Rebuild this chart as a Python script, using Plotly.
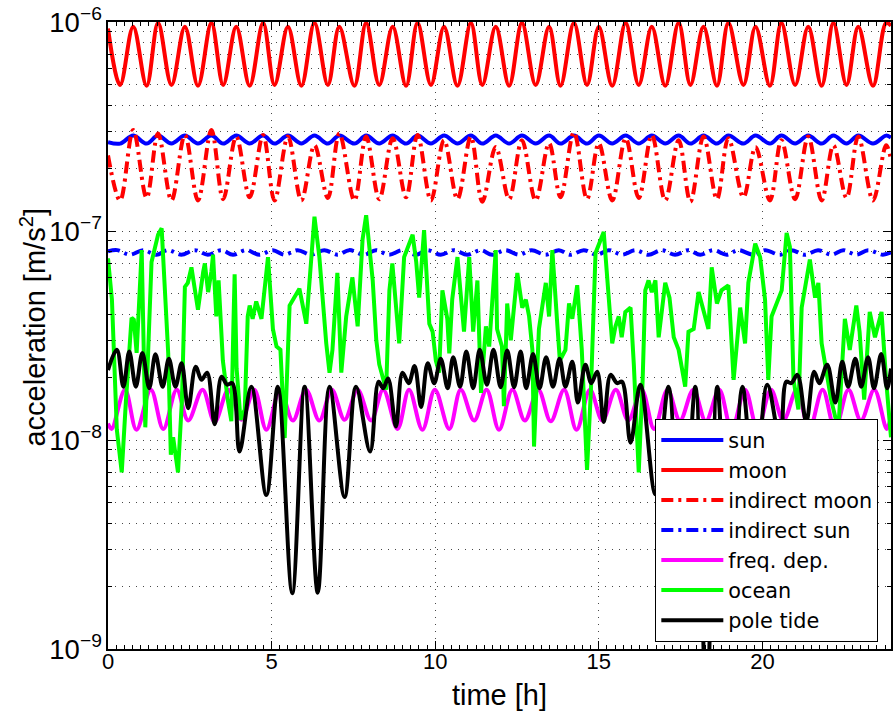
import plotly.graph_objects as go

# ---------------------------------------------------------------------------
# Tidal acceleration components over one sidereal day (time in hours, m/s^2)
# ---------------------------------------------------------------------------

# common time base of the direct / indirect lunar and solar terms (extrema)
t_lunar = [0.00, 0.37, 0.77, 1.18, 1.53, 1.94, 2.35, 2.75, 3.16, 3.52,
           3.92, 4.33, 4.74, 5.09, 5.50, 5.91, 6.31, 6.72, 7.07, 7.53,
           7.89, 8.29, 8.70, 9.11, 9.46, 9.87, 10.27, 10.68, 11.09, 11.44,
           11.85, 12.26, 12.65, 13.07, 13.48, 13.83, 14.24, 14.64, 15.00, 15.41,
           15.82, 16.22, 16.62, 17.03, 17.44, 17.80, 18.20, 18.61, 18.96, 19.42,
           19.79, 20.23, 20.58, 21.00, 21.40, 21.81, 22.17, 22.57, 22.93, 23.38,
           23.78, 23.93]

sun = [2.66e-7, 2.62e-7, 2.86e-7, 2.62e-7, 2.86e-7, 2.62e-7, 2.86e-7, 2.62e-7, 2.86e-7, 2.62e-7,
       2.86e-7, 2.62e-7, 2.86e-7, 2.62e-7, 2.86e-7, 2.62e-7, 2.86e-7, 2.62e-7, 2.86e-7, 2.62e-7,
       2.86e-7, 2.62e-7, 2.86e-7, 2.62e-7, 2.86e-7, 2.62e-7, 2.86e-7, 2.62e-7, 2.86e-7, 2.62e-7,
       2.86e-7, 2.62e-7, 2.86e-7, 2.62e-7, 2.86e-7, 2.62e-7, 2.86e-7, 2.62e-7, 2.86e-7, 2.62e-7,
       2.86e-7, 2.62e-7, 2.86e-7, 2.62e-7, 2.86e-7, 2.62e-7, 2.86e-7, 2.62e-7, 2.86e-7, 2.62e-7,
       2.86e-7, 2.62e-7, 2.86e-7, 2.62e-7, 2.86e-7, 2.62e-7, 2.86e-7, 2.62e-7, 2.86e-7, 2.62e-7,
       2.86e-7, 2.80e-7]

moon = [9.3e-7, 5.0e-7, 9.5e-7, 4.95e-7, 9.9e-7, 5.0e-7, 9.5e-7, 4.95e-7, 9.9e-7, 5.0e-7,
        9.5e-7, 4.95e-7, 9.9e-7, 5.0e-7, 9.5e-7, 4.95e-7, 9.9e-7, 5.0e-7, 9.5e-7, 4.95e-7,
        9.9e-7, 5.0e-7, 9.5e-7, 4.95e-7, 9.9e-7, 5.0e-7, 9.5e-7, 4.95e-7, 9.9e-7, 5.0e-7,
        9.5e-7, 4.95e-7, 9.9e-7, 5.0e-7, 9.5e-7, 4.95e-7, 9.9e-7, 5.0e-7, 9.5e-7, 4.95e-7,
        9.9e-7, 5.0e-7, 9.5e-7, 4.95e-7, 9.9e-7, 5.0e-7, 9.5e-7, 4.95e-7, 9.9e-7, 5.0e-7,
        9.5e-7, 4.95e-7, 9.9e-7, 5.0e-7, 9.5e-7, 4.95e-7, 9.9e-7, 5.0e-7, 9.5e-7, 4.95e-7,
        9.9e-7, 9.6e-7]

indirect_moon = [2.30e-7, 1.40e-7, 3.04e-7, 1.44e-7, 2.93e-7, 1.40e-7, 2.88e-7, 1.40e-7, 3.04e-7, 1.42e-7,
                 2.83e-7, 1.45e-7, 2.88e-7, 1.40e-7, 2.83e-7, 1.40e-7, 2.57e-7, 1.44e-7, 2.93e-7, 1.40e-7,
                 2.83e-7, 1.42e-7, 2.78e-7, 1.45e-7, 2.88e-7, 1.40e-7, 2.72e-7, 1.42e-7, 2.83e-7, 1.38e-7,
                 2.52e-7, 1.42e-7, 2.72e-7, 1.40e-7, 2.63e-7, 1.45e-7, 2.97e-7, 1.42e-7, 2.63e-7, 1.40e-7,
                 2.78e-7, 1.44e-7, 2.88e-7, 1.40e-7, 2.72e-7, 1.38e-7, 2.83e-7, 1.42e-7, 2.78e-7, 1.45e-7,
                 2.52e-7, 1.40e-7, 2.72e-7, 1.42e-7, 2.83e-7, 1.40e-7, 2.57e-7, 1.44e-7, 2.83e-7, 1.40e-7,
                 2.57e-7, 2.20e-7]

t_indirect_sun = [0.00, 0.28, 0.67, 1.07, 1.48, 1.83, 2.24, 2.65, 3.05, 3.46,
                  3.82, 4.22, 4.63, 5.04, 5.39, 5.80, 6.21, 6.61, 7.02, 7.37,
                  7.83, 8.19, 8.59, 9.00, 9.41, 9.76, 10.17, 10.57, 10.98, 11.39,
                  11.74, 12.15, 12.56, 12.95, 13.37, 13.78, 14.13, 14.54, 14.94, 15.30,
                  15.71, 16.12, 16.52, 16.92, 17.33, 17.74, 18.10, 18.50, 18.91, 19.26,
                  19.72, 20.09, 20.53, 20.88, 21.30, 21.70, 22.11, 22.47, 22.87, 23.23,
                  23.68, 23.93]

indirect_sun = [8.0e-8, 8.1e-8, 7.7e-8, 8.1e-8, 7.7e-8, 8.1e-8, 7.7e-8, 8.1e-8, 7.7e-8, 8.1e-8,
                7.7e-8, 8.1e-8, 7.7e-8, 8.1e-8, 7.7e-8, 8.1e-8, 7.7e-8, 8.1e-8, 7.7e-8, 8.1e-8,
                7.7e-8, 8.1e-8, 7.7e-8, 8.1e-8, 7.7e-8, 8.1e-8, 7.7e-8, 8.1e-8, 7.7e-8, 8.1e-8,
                7.7e-8, 8.1e-8, 7.7e-8, 8.1e-8, 7.7e-8, 8.1e-8, 7.7e-8, 8.1e-8, 7.7e-8, 8.1e-8,
                7.7e-8, 8.1e-8, 7.7e-8, 8.1e-8, 7.7e-8, 8.1e-8, 7.7e-8, 8.1e-8, 7.7e-8, 8.1e-8,
                7.7e-8, 8.1e-8, 7.7e-8, 8.1e-8, 7.7e-8, 8.1e-8, 7.7e-8, 8.1e-8, 7.7e-8, 8.1e-8,
                7.7e-8, 7.9e-8]

t_freq = [0.00, 0.11, 0.52, 0.87, 1.31, 1.69, 2.10, 2.45, 2.89, 3.26,
          3.68, 4.08, 4.47, 4.84, 5.26, 5.65, 6.05, 6.46, 6.84, 7.23,
          7.63, 8.04, 8.41, 8.85, 9.20, 9.61, 9.99, 10.43, 10.78, 11.19,
          11.57, 11.95, 12.36, 12.74, 13.15, 13.53, 13.94, 14.32, 14.73, 15.11,
          15.52, 15.90, 16.31, 16.69, 17.10, 17.48, 17.89, 18.27, 18.68, 19.06,
          19.47, 19.85, 20.26, 20.64, 21.05, 21.43, 21.84, 22.22, 22.63, 23.01,
          23.42, 23.80, 23.93]

freq_dep = [1.20e-8, 1.13e-8, 1.74e-8, 1.12e-8, 1.74e-8, 1.13e-8, 1.74e-8, 1.24e-8, 1.74e-8, 1.22e-8,
            1.74e-8, 1.25e-8, 1.74e-8, 1.12e-8, 1.74e-8, 1.24e-8, 1.74e-8, 1.24e-8, 1.74e-8, 1.25e-8,
            1.74e-8, 1.24e-8, 1.74e-8, 1.13e-8, 1.74e-8, 1.12e-8, 1.74e-8, 1.13e-8, 1.74e-8, 1.24e-8,
            1.74e-8, 1.12e-8, 1.74e-8, 1.24e-8, 1.74e-8, 1.23e-8, 1.74e-8, 1.12e-8, 1.74e-8, 1.24e-8,
            1.74e-8, 1.24e-8, 1.74e-8, 1.13e-8, 1.74e-8, 1.24e-8, 1.74e-8, 1.23e-8, 1.74e-8, 1.12e-8,
            1.74e-8, 1.13e-8, 1.74e-8, 1.24e-8, 1.74e-8, 1.12e-8, 1.74e-8, 1.13e-8, 1.74e-8, 1.24e-8,
            1.74e-8, 1.13e-8, 1.30e-8]

t_ocean = [0.00, 0.12, 0.27, 0.42, 0.55, 0.72, 0.79, 0.875, 1.03, 1.14,
           1.33, 1.41, 1.53, 1.64, 1.74, 1.84, 1.92, 1.99, 2.14, 2.26,
           2.35, 2.44, 2.55, 2.75, 2.91, 2.96, 3.06, 3.16, 3.21, 3.31,
           3.38, 3.51, 3.66, 3.77, 3.83, 3.87, 3.93, 4.05, 4.18, 4.27,
           4.33, 4.42, 4.53, 4.69, 4.89, 5.04, 5.15, 5.27, 5.40, 5.55,
           5.85, 6.06, 6.31, 6.46, 6.67, 6.77, 6.86, 7.01, 7.13, 7.28,
           7.47, 7.63, 7.78, 7.89, 8.09, 8.20, 8.29, 8.50, 8.60, 8.69,
           8.90, 9.05, 9.31, 9.42, 9.51, 9.66, 9.82, 9.92, 10.02, 10.12,
           10.22, 10.37, 10.43, 10.52, 10.68, 10.88, 11.04, 11.16, 11.29, 11.40,
           11.55, 11.65, 11.85, 11.89, 12.04, 12.10, 12.20, 12.31, 12.51, 12.66,
           12.77, 12.87, 12.97, 13.02, 13.17, 13.38, 13.48, 13.58, 13.73, 13.81,
           13.98, 14.09, 14.19, 14.34, 14.48, 14.64, 14.76, 14.90, 15.15, 15.24,
           15.41, 15.51, 15.61, 15.70, 15.81, 15.97, 16.07, 16.22, 16.34, 16.42,
           16.52, 16.62, 16.73, 16.83, 17.03, 17.16, 17.29, 17.44, 17.64, 17.74,
           17.90, 18.05, 18.23, 18.35, 18.45, 18.61, 18.75, 18.96, 19.12, 19.32,
           19.47, 19.57, 19.78, 19.93, 20.08, 20.18, 20.28, 20.49, 20.59, 20.74,
           20.84, 20.95, 21.10, 21.20, 21.45, 21.61, 21.71, 21.81, 22.10, 22.32,
           22.52, 22.67, 22.87, 22.97, 23.11, 23.28, 23.44, 23.64, 23.78, 23.93]

ocean = [7.4e-8, 4.7e-8, 1.12e-8, 7.0e-9, 1.56e-8, 3.84e-8, 3.76e-8, 2.61e-8, 8.1e-8, 1.15e-8,
         7.1e-8, 7.9e-8, 9.6e-8, 1.03e-7, 5.2e-8, 2.6e-8, 8.5e-9, 1.03e-8, 7.0e-9, 1.56e-8,
         5.4e-8, 5.65e-8, 6.7e-8, 4.2e-8, 6.4e-8, 7.0e-8, 5.1e-8, 6.4e-8, 7.7e-8, 3.9e-8,
         5.8e-8, 2.4e-8, 1.56e-8, 1.23e-8, 3.4e-8, 6.2e-8, 2.2e-8, 1.25e-8, 1.4e-8, 3.9e-8,
         4.4e-8, 3.8e-8, 4.6e-8, 3.8e-8, 7.5e-8, 3.4e-8, 2.8e-8, 2.7e-8, 1.02e-8, 4.4e-8,
         5.3e-8, 3.6e-8, 1.17e-7, 7.5e-8, 2.9e-8, 2.1e-8, 2.7e-8, 6.3e-8, 2.1e-8, 3.9e-8,
         6.0e-8, 3.5e-8, 9.1e-8, 1.19e-7, 5.8e-8, 3.0e-8, 2.3e-8, 1.74e-8, 5.2e-8, 7.0e-8,
         2.9e-8, 7.5e-8, 9.6e-8, 7.1e-8, 4.8e-8, 1.01e-7, 3.6e-8, 3.3e-8, 2.4e-8, 2.1e-8,
         5.2e-8, 3.8e-8, 2.6e-8, 4.7e-8, 7.5e-8, 3.3e-8, 7.5e-8, 3.3e-8, 5.8e-8, 1.68e-8,
         3.5e-8, 2.8e-8, 8.1e-8, 3.4e-8, 2.8e-8, 1.45e-8, 4.5e-8, 3.0e-8, 6.3e-8, 4.3e-8,
         4.7e-8, 3.9e-8, 2.7e-8, 9.3e-9, 3.4e-8, 5.65e-8, 3.9e-8, 8.1e-8, 3.6e-8, 2.4e-8,
         2.7e-8, 4.5e-8, 3.8e-8, 5.5e-8, 2.7e-8, 7.2e-9, 1.74e-8, 7.85e-8, 9.9e-8, 6.5e-8,
         2.9e-8, 3.5e-8, 3.9e-8, 3.1e-8, 4.1e-8, 4.3e-8, 2.3e-8, 7.0e-9, 1.94e-8, 5.2e-8,
         5.8e-8, 5.1e-8, 5.8e-8, 3.1e-8, 5.65e-8, 4.8e-8, 3.1e-8, 2.7e-8, 1.8e-8, 3.3e-8,
         3.4e-8, 5.1e-8, 3.9e-8, 3.4e-8, 6.7e-8, 4.5e-8, 5.2e-8, 5.5e-8, 1.94e-8, 4.3e-8,
         2.9e-8, 5.65e-8, 8.7e-8, 7.5e-8, 4.7e-8, 1.94e-8, 3.9e-8, 4.7e-8, 5.2e-8, 9.8e-8,
         8.4e-8, 1.94e-8, 1.4e-8, 4.3e-8, 7.3e-8, 4.8e-8, 5.65e-8, 2.9e-8, 1.56e-8, 1.12e-8,
         3.8e-8, 2.7e-8, 4.4e-8, 3.3e-8, 1.56e-8, 4.1e-8, 3.1e-8, 4.1e-8, 1.94e-8, 1.03e-8]

t_pole = [0.00, 0.27, 0.47, 0.65, 0.85, 1.05, 1.26, 1.45, 1.67, 1.86,
          2.06, 2.25, 2.45, 2.68, 2.86, 3.03, 3.26, 3.47, 3.64, 3.80,
          4.02, 4.38, 4.84, 5.19, 5.63, 6.01, 6.41, 6.77, 7.23, 7.58,
          8.01, 8.27, 8.41, 8.56, 8.80, 9.00, 9.19, 9.37, 9.57, 9.77,
          9.97, 10.17, 10.38, 10.55, 10.76, 10.95, 11.16, 11.36, 11.58, 11.78,
          12.00, 12.20, 12.41, 12.61, 12.78, 12.99, 13.19, 13.39, 13.60, 13.80,
          13.98, 14.19, 14.36, 14.59, 14.77, 14.95, 15.15, 15.36, 15.56, 15.71,
          15.97, 16.27, 16.73, 17.13, 17.54, 17.95, 18.29, 18.62, 18.99, 19.39,
          19.76, 20.15, 20.55, 20.73, 20.88, 21.07, 21.34, 21.58, 21.74, 21.98,
          22.23, 22.44, 22.62, 22.84, 23.02, 23.23, 23.41, 23.63, 23.81, 23.93]

pole_tide = [2.16e-8, 2.70e-8, 1.80e-8, 2.65e-8, 1.80e-8, 2.61e-8, 1.77e-8, 2.57e-8, 1.80e-8, 2.45e-8,
             1.80e-8, 2.33e-8, 1.42e-8, 2.24e-8, 1.94e-8, 2.10e-8, 1.19e-8, 2.01e-8, 1.84e-8, 1.87e-8,
             8.8e-9, 1.80e-8, 5.45e-9, 1.80e-8, 1.85e-9, 1.80e-8, 1.86e-9, 1.80e-8, 5.33e-9, 1.80e-8,
             8.8e-9, 1.90e-8, 1.77e-8, 1.97e-8, 1.16e-8, 2.10e-8, 1.87e-8, 2.26e-8, 1.44e-8, 2.33e-8,
             1.87e-8, 2.45e-8, 1.77e-8, 2.49e-8, 1.80e-8, 2.65e-8, 1.77e-8, 2.70e-8, 1.84e-8, 2.70e-8,
             1.79e-8, 2.68e-8, 1.79e-8, 2.65e-8, 1.77e-8, 2.58e-8, 1.77e-8, 2.49e-8, 1.80e-8, 2.45e-8,
             1.80e-8, 2.37e-8, 1.51e-8, 2.29e-8, 1.87e-8, 2.12e-8, 1.22e-8, 2.05e-8, 1.87e-8, 1.90e-8,
             9.7e-9, 1.84e-8, 5.5e-9, 1.80e-8, 2.0e-9, 1.80e-8, 5.0e-10, 1.80e-8, 2.0e-9, 1.80e-8,
             5.5e-9, 1.84e-8, 9.7e-9, 1.90e-8, 1.87e-8, 2.05e-8, 1.22e-8, 2.12e-8, 1.87e-8, 2.29e-8,
             1.51e-8, 2.37e-8, 1.80e-8, 2.45e-8, 1.80e-8, 2.49e-8, 1.77e-8, 2.58e-8, 1.77e-8, 2.20e-8]

FONT = "Liberation Sans, Arial, Helvetica, sans-serif"
LEGEND_FONT = "DejaVu Sans, Liberation Sans, sans-serif"
DASHDOT = "12px,5px,3px,5px"
LW = 4

series = [
    ("sun", t_lunar, sun, "#0000ff", "solid", "spline"),
    ("moon", t_lunar, moon, "#ff0000", "solid", "spline"),
    ("indirect moon", t_lunar, indirect_moon, "#ff0000", DASHDOT, "spline"),
    ("indirect sun", t_indirect_sun, indirect_sun, "#0000ff", DASHDOT, "spline"),
    ("freq. dep.", t_freq, freq_dep, "#ff00ff", "solid", "spline"),
    ("ocean", t_ocean, ocean, "#00ff00", "solid", "linear"),
    ("pole tide", t_pole, pole_tide, "#000000", "solid", "spline"),
]

fig = go.Figure()
for name, tx, vy, color, dash, shape in series:
    fig.add_trace(go.Scatter(
        x=tx, y=vy, name=name, mode="lines",
        line=dict(color=color, width=LW, dash=dash, shape=shape),
    ))

GRID = "rgba(40,40,40,0.85)"
GRIDDASH = "1px,6px"

fig.update_layout(
    width=894, height=713,
    margin=dict(l=108, r=1, t=22, b=64),
    paper_bgcolor="white", plot_bgcolor="white",
    font=dict(family=FONT, size=24, color="black"),
    legend=dict(
        x=0.699, y=0.367, xanchor="left", yanchor="top",
        bgcolor="white", bordercolor="black", borderwidth=1,
        font=dict(family=LEGEND_FONT, size=20.8, color="black"),
        itemwidth=62, tracegroupgap=0,
    ),
    # vertical axis label, set close to the tick labels
    annotations=[dict(
        text="acceleration [m/s<sup>2</sup>]", textangle=-90,
        xref="paper", yref="paper", x=-0.0955, y=0.513,
        xanchor="center", yanchor="middle", showarrow=False,
        font=dict(family=FONT, size=29, color="black"),
    )],
)

fig.update_xaxes(
    range=[0, 23.93], tick0=0, dtick=5,
    ticks="inside", ticklen=8, tickwidth=1, tickcolor="black",
    tickfont=dict(size=22), ticklabelstandoff=-8,
    showline=True, linecolor="black", linewidth=1.5, mirror="ticks",
    showgrid=True, gridcolor=GRID, gridwidth=1, griddash=GRIDDASH,
    zeroline=False,
    minor=dict(ticks="inside", ticklen=4, dtick=0.25, tickcolor="black", showgrid=False),
    title=dict(text="time [h]", standoff=12, font=dict(size=29)),
)

fig.update_yaxes(
    type="log", range=[-9, -6], dtick=1,
    exponentformat="power", showexponent="all",
    ticks="inside", ticklen=8, tickwidth=1, tickcolor="black",
    tickfont=dict(size=22),
    showline=True, linecolor="black", linewidth=1.5, mirror="ticks",
    showgrid=True, gridcolor=GRID, gridwidth=1, griddash=GRIDDASH,
    zeroline=False,
    minor=dict(ticks="inside", ticklen=4, dtick="D1", tickcolor="black",
               showgrid=True, gridcolor=GRID, gridwidth=1, griddash=GRIDDASH),
)

fig.write_html("out.html")
